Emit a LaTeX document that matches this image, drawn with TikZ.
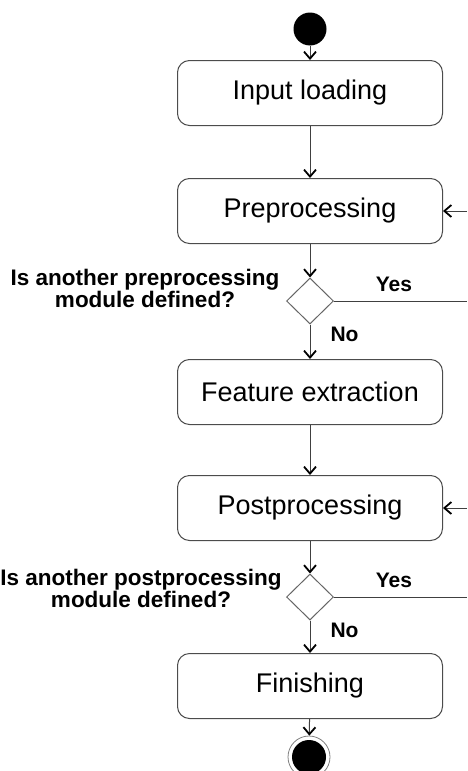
\documentclass[tikz,border=0pt]{standalone}
\usepackage{fontspec}
\setmainfont{Liberation Sans}
\usetikzlibrary{arrows.meta}
\usetikzlibrary{shapes.geometric}

\tikzset{
  etape/.style={draw=black!70, line width=1pt, rectangle, rounded corners=12pt,
    minimum width=265pt, minimum height=65pt, inner sep=0pt,
    font=\fontsize{27}{32}\selectfont},
  choix/.style={draw=black!60, line width=1pt, diamond, aspect=1,
    minimum width=47pt, minimum height=46pt, inner sep=0pt},
  etiquette/.style={font=\bfseries\fontsize{21}{22}\selectfont, inner sep=0pt, align=center},
  question/.style={etiquette, font=\bfseries\fontsize{22.5}{22}\selectfont},
  ligne/.style={draw=black!75, line width=1pt},
  fleche/.style={ligne, -{Straight Barb[length=7pt,width=12pt,line width=1.8pt,color=black]}},
}

\begin{document}
\begin{tikzpicture}[x=1pt,y=-1pt]
				\useasboundingbox (0,0) rectangle (467,771);
				% Noeuds
				\node [circle,fill=black,minimum size=33pt,inner sep=0pt] (debut) at (310,29) {};
				\node [etape] (chargement) at (310,93) {Input loading};
				\node [etape] (pretraitement) at (310,211) {Preprocessing};
				\node [choix] (choixpre) at (310,301) {};
				\node [etape] (extraction) at (310,392) {Feature extraction};
				\node [etape] (posttraitement) at (310,508) {Postprocessing};
				\node [choix] (choixpost) at (310,597) {};
				\node [etape] (finition) at (310,686) {Finishing};
				\node [circle,draw=black!50,line width=0.8pt,minimum size=42pt,inner sep=0pt,
					path picture={\fill[black] (path picture bounding box.center) circle (17pt);}] (fin) at (309,757) {};
				% Bords droits
				\coordinate (bordpre) at (467,301);
				\coordinate (retourpre) at (467,211);
				\coordinate (bordpost) at (467,597);
				\coordinate (retourpost) at (467,508);
				% Questions
				\node [question] (questionpre) at (145,288) {Is another preprocessing\\module defined?};
				\node [question] (questionpost) at (141,588) {Is another postprocessing\\module defined?};
				% Flèches
				\draw [fleche] (debut) -- (chargement);
				\draw [fleche] (chargement) -- (pretraitement);
				\draw [fleche] (pretraitement) -- (choixpre);
				\draw [fleche] (choixpre) -- (extraction) node [etiquette,pos=0.3,anchor=west,xshift=20pt] {No};
				\draw [ligne] (choixpre.east) -- (bordpre) node [etiquette,pos=0.45,above=9pt] {Yes};
				\draw [fleche] (retourpre) -- (pretraitement.east);
				\draw [fleche] (extraction) -- (posttraitement);
				\draw [fleche] (posttraitement) -- (choixpost);
				\draw [fleche] (choixpost) -- (finition) node [etiquette,pos=0.3,anchor=west,xshift=20pt] {No};
				\draw [ligne] (choixpost.east) -- (bordpost) node [etiquette,pos=0.45,above=9pt] {Yes};
				\draw [fleche] (retourpost) -- (posttraitement.east);
				\draw [fleche] (finition) -- (fin);
\end{tikzpicture}
\end{document}
